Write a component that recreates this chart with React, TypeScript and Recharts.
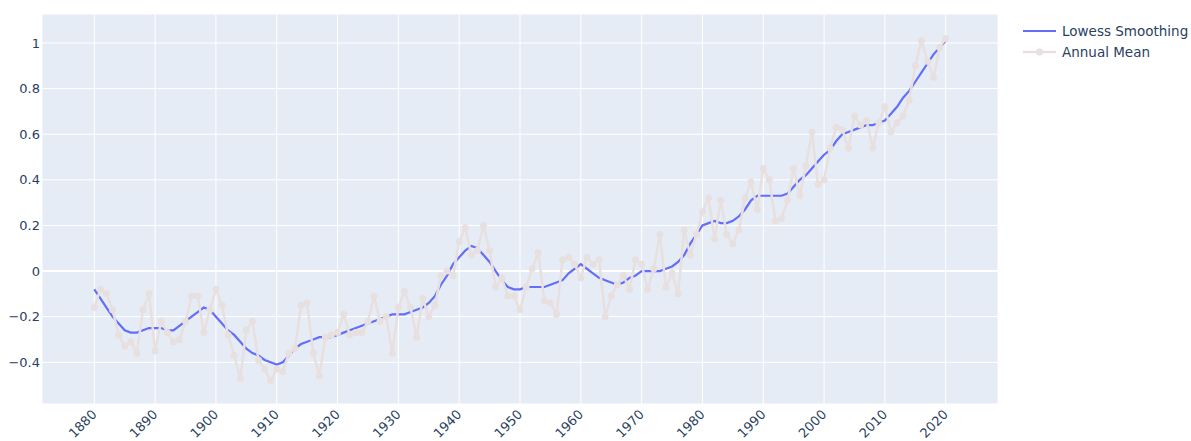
import { LineChart, Line, XAxis, YAxis, CartesianGrid, ReferenceLine } from 'recharts';

const years = [
  1880, 1881, 1882, 1883, 1884, 1885, 1886, 1887, 1888, 1889,
  1890, 1891, 1892, 1893, 1894, 1895, 1896, 1897, 1898, 1899,
  1900, 1901, 1902, 1903, 1904, 1905, 1906, 1907, 1908, 1909,
  1910, 1911, 1912, 1913, 1914, 1915, 1916, 1917, 1918, 1919,
  1920, 1921, 1922, 1923, 1924, 1925, 1926, 1927, 1928, 1929,
  1930, 1931, 1932, 1933, 1934, 1935, 1936, 1937, 1938, 1939,
  1940, 1941, 1942, 1943, 1944, 1945, 1946, 1947, 1948, 1949,
  1950, 1951, 1952, 1953, 1954, 1955, 1956, 1957, 1958, 1959,
  1960, 1961, 1962, 1963, 1964, 1965, 1966, 1967, 1968, 1969,
  1970, 1971, 1972, 1973, 1974, 1975, 1976, 1977, 1978, 1979,
  1980, 1981, 1982, 1983, 1984, 1985, 1986, 1987, 1988, 1989,
  1990, 1991, 1992, 1993, 1994, 1995, 1996, 1997, 1998, 1999,
  2000, 2001, 2002, 2003, 2004, 2005, 2006, 2007, 2008, 2009,
  2010, 2011, 2012, 2013, 2014, 2015, 2016, 2017, 2018, 2019,
  2020,
];

// annual mean anomaly
const annualMean = [
  -0.16, -0.08, -0.10, -0.17, -0.28, -0.33, -0.31, -0.36, -0.17, -0.10,
  -0.35, -0.22, -0.27, -0.31, -0.30, -0.22, -0.11, -0.11, -0.27, -0.17,
  -0.08, -0.15, -0.28, -0.37, -0.47, -0.26, -0.22, -0.39, -0.43, -0.48,
  -0.43, -0.44, -0.36, -0.34, -0.15, -0.14, -0.36, -0.46, -0.29, -0.28,
  -0.27, -0.19, -0.28, -0.27, -0.27, -0.22, -0.11, -0.22, -0.20, -0.36,
  -0.16, -0.09, -0.16, -0.29, -0.12, -0.20, -0.15, -0.02, 0.00, -0.02,
  0.13, 0.19, 0.07, 0.09, 0.20, 0.09, -0.07, -0.03, -0.11, -0.11,
  -0.17, -0.07, 0.01, 0.08, -0.13, -0.14, -0.19, 0.05, 0.06, 0.03,
  -0.03, 0.06, 0.03, 0.05, -0.20, -0.11, -0.06, -0.02, -0.08, 0.05,
  0.03, -0.08, 0.01, 0.16, -0.07, -0.01, -0.10, 0.18, 0.07, 0.16,
  0.26, 0.32, 0.14, 0.31, 0.16, 0.12, 0.18, 0.32, 0.39, 0.27,
  0.45, 0.40, 0.22, 0.23, 0.31, 0.45, 0.33, 0.46, 0.61, 0.38,
  0.40, 0.54, 0.63, 0.62, 0.54, 0.68, 0.64, 0.66, 0.54, 0.65,
  0.72, 0.61, 0.65, 0.68, 0.75, 0.90, 1.01, 0.92, 0.85, 0.98,
  1.02,
];

// lowess smoothed anomaly
const lowess = [
  -0.08, -0.12, -0.16, -0.20, -0.23, -0.26, -0.27, -0.27, -0.26, -0.25,
  -0.25, -0.25, -0.26, -0.26, -0.24, -0.22, -0.20, -0.18, -0.16, -0.17,
  -0.20, -0.23, -0.26, -0.28, -0.31, -0.34, -0.36, -0.37, -0.39, -0.40,
  -0.41, -0.40, -0.37, -0.34, -0.32, -0.31, -0.30, -0.29, -0.29, -0.29,
  -0.28, -0.27, -0.26, -0.25, -0.24, -0.23, -0.22, -0.21, -0.20, -0.19,
  -0.19, -0.19, -0.18, -0.17, -0.16, -0.14, -0.11, -0.06, -0.02, 0.03,
  0.06, 0.09, 0.11, 0.10, 0.07, 0.04, 0.00, -0.04, -0.07, -0.08,
  -0.08, -0.07, -0.07, -0.07, -0.07, -0.06, -0.05, -0.04, -0.01, 0.01,
  0.03, 0.01, -0.01, -0.03, -0.04, -0.05, -0.06, -0.05, -0.03, -0.02,
  0.00, 0.00, 0.00, 0.00, 0.01, 0.02, 0.04, 0.07, 0.12, 0.16,
  0.20, 0.21, 0.22, 0.21, 0.21, 0.22, 0.24, 0.27, 0.31, 0.33,
  0.33, 0.33, 0.33, 0.33, 0.34, 0.37, 0.40, 0.42, 0.45, 0.48,
  0.51, 0.53, 0.57, 0.60, 0.61, 0.62, 0.63, 0.64, 0.64, 0.65,
  0.66, 0.69, 0.72, 0.76, 0.79, 0.83, 0.87, 0.91, 0.95, 0.98,
  1.01,
];

const xTicks = [1880, 1890, 1900, 1910, 1920, 1930, 1940, 1950, 1960, 1970, 1980, 1990, 2000, 2010, 2020];
const yTicks = [-0.4, -0.2, 0, 0.2, 0.4, 0.6, 0.8, 1];

const LOWESS_COLOR = '#636efa';
const ANNUAL_COLOR = '#e8dfdf';
const TEXT_COLOR = '#2a3f5f';
const FONT = '"DejaVu Sans", Verdana, sans-serif';

const data = years.map((year, i) => ({ year, annual: annualMean[i], lowess: lowess[i] }));

const fmtY = (v: number) => String(v).replace('-', '\u2212');

function RotatedTick(props: any) {
  const { x, y, payload } = props;
  return (
    <g transform={`translate(${x},${y})`}>
      <text
        transform="rotate(-45)"
        textAnchor="end"
        dy="0.35em"
        fill={TEXT_COLOR}
        fontSize={13}
        fontFamily={FONT}
      >
        {payload.value}
      </text>
    </g>
  );
}

function LegendBox() {
  return (
    <div style={{ position: 'absolute', left: 1018, top: 20, fontFamily: FONT, fontSize: 13.5, color: TEXT_COLOR }}>
      <svg width={173} height={44} style={{ position: 'absolute', left: 0, top: 0 }}>
        <line x1={5} x2={38} y1={11} y2={11} stroke={LOWESS_COLOR} strokeWidth={2} />
        <line x1={5} x2={38} y1={32} y2={32} stroke={ANNUAL_COLOR} strokeWidth={2.5} />
        <circle cx={21.5} cy={32} r={3.5} fill={ANNUAL_COLOR} />
        <text x={44} y={11} dy="0.35em" fill={TEXT_COLOR} fontSize={13.5} fontFamily={FONT}>Lowess Smoothing</text>
        <text x={44} y={32} dy="0.35em" fill={TEXT_COLOR} fontSize={13.5} fontFamily={FONT}>Annual Mean</text>
      </svg>
    </div>
  );
}

export default function App() {
  return (
    <div style={{ position: 'absolute', left: 0, top: 0, width: 1191, height: 441, background: '#fff' }}>
      <LineChart width={1191} height={441} data={data} margin={{ top: 14, right: 193, bottom: 0, left: 0 }}>
        <CartesianGrid stroke="#fff" strokeWidth={1} fill="#e5ecf6" fillOpacity={1} />
        <XAxis
          dataKey="year"
          type="number"
          domain={[1871.4, 2028.6]}
          ticks={xTicks}
          interval={0}
          allowDataOverflow
          axisLine={false}
          tickLine={false}
          tickSize={0}
          tickMargin={8}
          height={37}
          tick={<RotatedTick />}
        />
        <YAxis
          type="number"
          domain={[-0.583, 1.127]}
          ticks={yTicks}
          interval={0}
          allowDataOverflow
          axisLine={false}
          tickLine={false}
          tickSize={0}
          tickMargin={2}
          width={42}
          tickFormatter={fmtY}
          tick={{ fill: TEXT_COLOR, fontSize: 13, fontFamily: FONT }}
        />
        <ReferenceLine y={0} stroke="#fff" strokeWidth={2} />
        <Line
          type="linear"
          dataKey="lowess"
          stroke={LOWESS_COLOR}
          strokeWidth={2.2}
          dot={false}
          isAnimationActive={false}
        />
        <Line
          type="linear"
          dataKey="annual"
          stroke={ANNUAL_COLOR}
          strokeWidth={2.5}
          dot={{ r: 3.5, fill: ANNUAL_COLOR, stroke: 'none', strokeWidth: 0 }}
          activeDot={false}
          isAnimationActive={false}
        />
      </LineChart>
      <LegendBox />
    </div>
  );
}
